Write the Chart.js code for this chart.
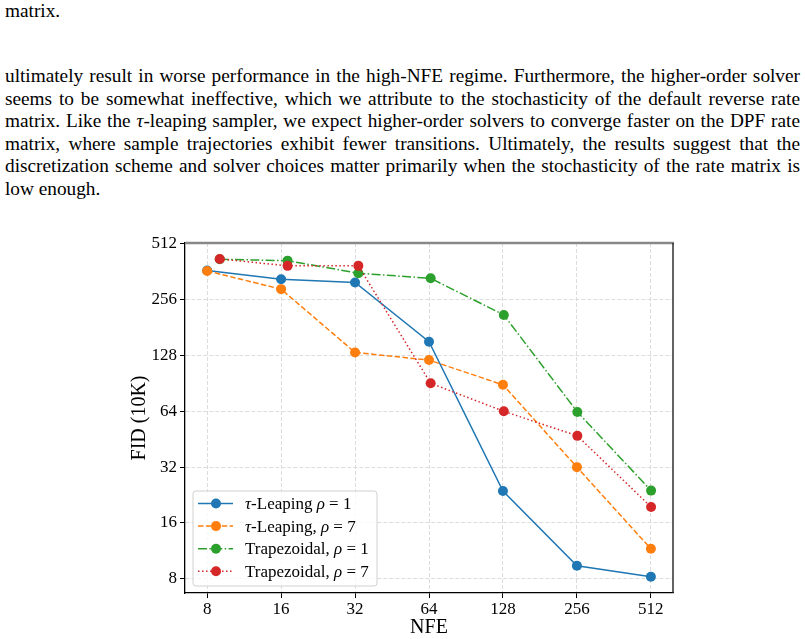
<!DOCTYPE html>
<html>
<head>
<meta charset="utf-8">
<script src="https://cdn.jsdelivr.net/npm/chart.js@4.4.1/dist/chart.umd.min.js"></script>
<style>
  body { margin: 0; background: #fff; width: 805px; height: 639px; overflow: hidden; position: relative; }
  .ln { position: absolute; left: 5px; width: 795px; font-family: 'Liberation Serif', serif; font-size: 19.3px;
        line-height: 22.6px; color: #000; white-space: nowrap; text-align: justify; text-align-last: justify; }
  .ln.last { text-align-last: left; }
  #wrap { position: absolute; left: 0; top: 225px; width: 805px; height: 414px; }
</style>
</head>
<body>
<div class="ln last" style="top:0px">matrix.</div>
<div class="ln" style="top:65px">ultimately result in worse performance in the high-NFE regime. Furthermore, the higher-order solver</div>
<div class="ln" style="top:87.6px">seems to be somewhat ineffective, which we attribute to the stochasticity of the default reverse rate</div>
<div class="ln" style="top:110.2px">matrix. Like the <i>τ</i>-leaping sampler, we expect higher-order solvers to converge faster on the DPF rate</div>
<div class="ln" style="top:132.8px">matrix, where sample trajectories exhibit fewer transitions. Ultimately, the results suggest that the</div>
<div class="ln" style="top:155.4px">discretization scheme and solver choices matter primarily when the stochasticity of the rate matrix is</div>
<div class="ln last" style="top:178px">low enough.</div>
<div id="wrap"><canvas id="myChart" width="805" height="414"></canvas></div>
<script>
// NFE values (trapezoidal runs use one extra evaluation)
const nfeTau = [8, 16, 32, 64, 128, 256, 512]
const nfeTrap = [9, 17, 33, 65, 129, 257, 513]

// FID (10K)
const fidTauRho1 = [368, 330, 317, 152, 23.8, 9.4, 8.2]
const fidTauRho7 = [366, 292, 133, 121, 89, 32, 11.6]
const fidTrapRho1 = [423, 416, 356, 334, 212, 63.5, 23.9]
const fidTrapRho7 = [425, 390, 390, 90.7, 64, 47.2, 19.5]

const xTicks = [8, 16, 32, 64, 128, 256, 512]
const yTicks = [8, 16, 32, 64, 128, 256, 512]

const serif = 'Liberation Serif'

const series = [
    { label: [['τ', 'italic'], ['-Leaping ', ''], ['ρ', 'italic'], [' = 1', '']], x: nfeTau, y: fidTauRho1, color: '#1f77b4', dash: [] },
    { label: [['τ', 'italic'], ['-Leaping, ', ''], ['ρ', 'italic'], [' = 7', '']], x: nfeTau, y: fidTauRho7, color: '#ff7f0e', dash: [5.5, 2.4] },
    { label: [['Trapezoidal, ', ''], ['ρ', 'italic'], [' = 1', '']], x: nfeTrap, y: fidTrapRho1, color: '#2ca02c', dash: [9, 2.4, 1.5, 2.4] },
    { label: [['Trapezoidal, ', ''], ['ρ', 'italic'], [' = 7', '']], x: nfeTrap, y: fidTrapRho7, color: '#d62728', dash: [1.5, 2.5] }
]

const datasets = series.map((s, i) => ({
    data: s.x.map((v, j) => ({ x: v, y: s.y[j] })),
    showLine: true,
    borderColor: s.color,
    backgroundColor: s.color,
    borderWidth: 1.5,
    borderDash: s.dash,
    pointRadius: 5,
    pointBorderWidth: 0,
    pointBackgroundColor: s.color,
    order: 3 - i
}))

const drawParts = (ctx, parts, x, y, size) => {
    parts.forEach(p => {
        ctx.font = `${p[1]} ${size}px '${serif}', serif`
        ctx.fillText(p[0], x, y)
        x += ctx.measureText(p[0]).width
    })
}

const extras = {
    id: 'extras',
    afterDatasetsDraw(chart) {
        const { ctx, chartArea: a } = chart
        ctx.save()
        // frame top / right
        ctx.strokeStyle = '#888'
        ctx.lineWidth = 2.5
        ctx.beginPath()
        ctx.moveTo(a.left, a.top)
        ctx.lineTo(a.right + 1, a.top)
        ctx.stroke()
        ctx.strokeStyle = '#222'
        ctx.lineWidth = 1.4
        ctx.beginPath()
        ctx.moveTo(a.right, a.top)
        ctx.lineTo(a.right, a.bottom)
        ctx.stroke()

        // legend
        const bx = a.left + 8, bw = 184, bh = 95, by = a.bottom - 7 - bh
        ctx.fillStyle = 'rgba(255,255,255,0.8)'
        ctx.strokeStyle = '#d0d0d0'
        ctx.lineWidth = 1
        ctx.beginPath()
        ctx.roundRect(bx, by, bw, bh, 3)
        ctx.fill()
        ctx.stroke()
        series.forEach((s, i) => {
            const yy = by + 12.5 + i * 22.6
            ctx.strokeStyle = s.color
            ctx.lineWidth = 1.5
            ctx.setLineDash(s.dash)
            ctx.beginPath()
            ctx.moveTo(bx + 5, yy)
            ctx.lineTo(bx + 40, yy)
            ctx.stroke()
            ctx.setLineDash([])
            ctx.fillStyle = s.color
            ctx.beginPath()
            ctx.arc(bx + 23, yy, 5, 0, Math.PI * 2)
            ctx.fill()
            ctx.fillStyle = '#000'
            ctx.textBaseline = 'middle'
            ctx.textAlign = 'left'
            drawParts(ctx, s.label, bx + 52, yy + 1, 17)
        })

        // axis titles
        ctx.fillStyle = '#000'
        ctx.font = `20px '${serif}', serif`
        ctx.textAlign = 'center'
        ctx.textBaseline = 'middle'
        ctx.fillText('NFE', (a.left + a.right) / 2, a.bottom + 35)
        ctx.translate(a.left - 45, (a.top + a.bottom) / 2)
        ctx.rotate(-Math.PI / 2)
        ctx.fillText('FID (10K)', 0, 0)
        ctx.restore()
    }
}

const axis = (min, max, ticks, pad) => ({
    type: 'logarithmic',
    min: min,
    max: max,
    afterBuildTicks: scale => { scale.ticks = ticks.map(v => ({ value: v })) },
    ticks: {
        autoSkip: false,
        maxRotation: 0,
        padding: pad,
        color: '#000',
        font: { family: serif, size: 17 },
        callback: v => String(v)
    },
    grid: {
        color: '#d8d8d8',
        lineWidth: 0.9,
        tickColor: '#000',
        tickLength: 5,
        tickWidth: 1,
        tickBorderDash: []
    },
    border: { color: '#000', width: 1.3, dash: [4, 2] }
})

const xAxis = axis(6.5, 630, xTicks, 1)
xAxis.afterFit = scale => { scale.height = 46 }
const yAxis = axis(6.7, 518, yTicks, 3)
yAxis.afterFit = scale => { scale.width = 185 }

new Chart(document.getElementById('myChart').getContext('2d'), {
    type: 'scatter',
    data: { datasets: datasets },
    options: {
        responsive: false,
        animation: false,
        devicePixelRatio: 1,
        layout: { padding: { left: 0, right: 132, top: 18, bottom: 0 } },
        scales: { x: xAxis, y: yAxis },
        plugins: { legend: { display: false }, tooltip: { enabled: false } }
    },
    plugins: [extras]
})
</script>
</body>
</html>
